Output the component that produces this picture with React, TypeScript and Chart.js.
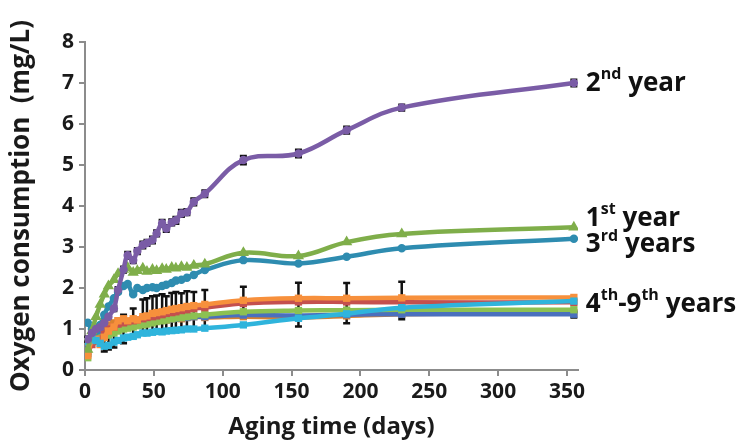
import React, { useEffect, useRef } from "react";
import { Chart, registerables } from "chart.js";
Chart.register(...registerables);

// ---- data ----
const days = [2, 5, 8, 11, 14, 17, 21, 24, 28, 31, 35, 38, 42, 45, 49, 52, 56, 59, 63, 66, 70, 74, 79, 87, 115, 155, 190, 230, 355];

const year2 = [0.75, 0.9, 1.0, 1.05, 1.15, 1.3, 1.5, 1.95, 2.45, 2.8, 2.68, 2.9, 3.05, 3.1, 3.17, 3.33, 3.58, 3.45, 3.6, 3.65, 3.82, 3.85, 4.1, 4.3, 5.12, 5.28, 5.85, 6.4, 7.0];
const year1 = [0.5, 0.95, 1.3, 1.6, 1.85, 2.05, 2.2, 2.35, 2.45, 2.5, 2.38, 2.42, 2.48, 2.4, 2.45, 2.42, 2.47, 2.45, 2.5, 2.48, 2.52, 2.5, 2.55, 2.58, 2.86, 2.78, 3.12, 3.32, 3.48];
const year3 = [1.15, 1.0, 0.95, 1.1, 1.35, 1.55, 1.75, 1.9, 2.05, 2.1, 1.85, 2.0, 1.95, 2.0, 2.02, 2.0, 2.05, 2.08, 2.12, 2.18, 2.2, 2.25, 2.32, 2.44, 2.68, 2.6, 2.76, 2.97, 3.2];
const lowCyan = [0.7, 0.75, 0.72, 0.65, 0.58, 0.6, 0.68, 0.72, 0.78, 0.8, 0.82, 0.86, 0.9, 0.9, 0.92, 0.94, 0.93, 0.95, 0.96, 0.97, 0.98, 1.0, 1.0, 1.02, 1.1, 1.26, 1.37, 1.52, 1.68];
const lowOrange = [0.35, 0.72, 0.75, 0.62, 0.8, 0.95, 1.05, 1.2, 1.25, 1.2, 1.25, 1.22, 1.3, 1.32, 1.38, 1.4, 1.42, 1.45, 1.48, 1.5, 1.52, 1.55, 1.57, 1.6, 1.7, 1.75, 1.75, 1.76, 1.77];
const lowRed = [0.4, 0.62, 0.7, 0.75, 0.88, 1.0, 1.05, 1.12, 1.15, 1.18, 1.2, 1.22, 1.25, 1.28, 1.3, 1.32, 1.35, 1.38, 1.4, 1.42, 1.45, 1.47, 1.5, 1.52, 1.62, 1.66, 1.66, 1.65, 1.65];
const lowGreen = [0.3, 0.68, 0.75, 0.78, 0.8, 0.85, 0.9, 0.95, 1.0, 1.02, 1.05, 1.08, 1.1, 1.12, 1.15, 1.18, 1.2, 1.22, 1.25, 1.27, 1.28, 1.3, 1.32, 1.35, 1.42, 1.45, 1.46, 1.47, 1.47];
const lowBlue = [0.5, 0.75, 0.8, 0.85, 0.9, 0.95, 1.0, 1.05, 1.08, 1.1, 1.12, 1.12, 1.15, 1.17, 1.18, 1.2, 1.22, 1.23, 1.25, 1.26, 1.28, 1.28, 1.3, 1.3, 1.34, 1.33, 1.35, 1.36, 1.36];
const lowBrown = [0.45, 0.8, 0.85, 0.95, 1.05, 1.1, 1.15, 1.2, 1.1, 1.15, 1.2, 1.18, 1.2, 1.22, 1.2, 1.22, 1.25, 1.22, 1.25, 1.28, 1.25, 1.28, 1.3, 1.28, 1.3, 1.28, 1.32, 1.36, 1.4];

// error bars
const year2Err = [0.06, 0.06, 0.06, 0.06, 0.06, 0.06, 0.06, 0.07, 0.07, 0.08, 0.07, 0.07, 0.08, 0.07, 0.08, 0.07, 0.08, 0.08, 0.07, 0.08, 0.08, 0.07, 0.08, 0.08, 0.1, 0.09, 0.08, 0.07, 0.08];
const lowErrDays = [14, 17, 21, 28, 35, 42, 45, 49, 52, 56, 59, 63, 66, 70, 74, 79, 87, 115, 155, 190, 230, 355];
const lowErrHigh = [0.9, 1.05, 1.15, 1.35, 1.5, 1.72, 1.75, 1.8, 1.82, 1.85, 1.8, 1.88, 1.9, 1.87, 1.92, 1.9, 1.95, 2.03, 2.13, 2.12, 2.15, 1.42];
const lowErrLow = [0.45, 0.5, 0.55, 0.65, 0.8, 0.9, 0.9, 0.92, 0.95, 0.95, 0.97, 0.98, 0.98, 0.97, 1.0, 1.0, 1.02, 1.4, 1.06, 1.14, 1.24, 1.28];

const xTicks = [0, 50, 100, 150, 200, 250, 300, 350];
const yTicks = [0, 1, 2, 3, 4, 5, 6, 7, 8];

const xTitle = "Aging time (days)";
const yTitle = "Oxygen consumption  (mg/L)";

// label segments: [text, isSuperscript]
const seriesLabels: [string, number][][] = [
  [["2", 0], ["nd", 1], [" year", 0]],
  [["1", 0], ["st", 1], [" year", 0]],
  [["3", 0], ["rd", 1], [" years", 0]],
  [["4", 0], ["th", 1], ["-9", 0], ["th", 1], [" years", 0]],
];

const FONT = "'Open Sans', Lato, sans-serif";

const pts = (vals: number[]) => vals.map((v, i) => ({ x: days[i], y: v }));

const errorPlugin = {
  id: "errbars",
  beforeDatasetsDraw(chart: any) {
    const { ctx } = chart;
    const x = chart.scales.x, y = chart.scales.y;
    ctx.save();
    ctx.strokeStyle = "#111";
    ctx.lineWidth = 2.5;
    const bar = (d: number, lo: number, hi: number, cap: number) => {
      const px = x.getPixelForValue(d);
      const y1 = y.getPixelForValue(lo), y2 = y.getPixelForValue(hi);
      ctx.beginPath();
      ctx.moveTo(px, y1); ctx.lineTo(px, y2);
      ctx.moveTo(px - cap, y1); ctx.lineTo(px + cap, y1);
      ctx.moveTo(px - cap, y2); ctx.lineTo(px + cap, y2);
      ctx.stroke();
    };
    lowErrDays.forEach((d, i) => bar(d, lowErrLow[i], lowErrHigh[i], 3.5));
    days.forEach((d, i) => bar(d, year2[i] - year2Err[i], year2[i] + year2Err[i], 3.5));
    ctx.restore();
  },
};

const labelPlugin = {
  id: "serieslabels",
  afterDraw(chart: any) {
    const { ctx } = chart;
    const x = chart.scales.x, y = chart.scales.y;
    const anchors = [6.99, 3.7, 3.05, 1.6];
    const x0 = x.getPixelForValue(355) + 12;
    ctx.save();
    ctx.fillStyle = "#111";
    ctx.textBaseline = "middle";
    seriesLabels.forEach((segs, i) => {
      let cx = x0;
      const cy = y.getPixelForValue(anchors[i]);
      segs.forEach(([t, sup]) => {
        ctx.font = sup ? `bold 16px ${FONT}` : `bold 26px ${FONT}`;
        ctx.fillText(t, cx, sup ? cy - 9 : cy);
        cx += ctx.measureText(t).width;
      });
    });
    ctx.restore();
  },
};

export default function App() {
  const ref = useRef<HTMLCanvasElement>(null);
  useEffect(() => {
    if (!ref.current) return;
    const mk = (label: string, vals: number[], color: string, style: string) => ({
      label,
      data: pts(vals),
      borderColor: color,
      backgroundColor: color,
      borderWidth: 4.5,
      pointRadius: 2,
      pointStyle: style,
      pointBorderColor: color,
      pointBackgroundColor: color,
      tension: 0.4,
      fill: false,
    });
    const chart = new Chart(ref.current, {
      type: "line",
      data: {
        datasets: [
          mk("2nd year", year2, "#7a5ca6", "circle"),
          mk("1st year", year1, "#7fae4a", "triangle"),
          mk("3rd years", year3, "#2e8cb0", "circle"),
          mk("4th-9th cyan", lowCyan, "#2fb4dc", "rect"),
          mk("4th-9th orange", lowOrange, "#f7903c", "rect"),
          mk("4th-9th red", lowRed, "#c4504e", "rect"),
          mk("4th-9th green", lowGreen, "#8cc152", "rect"),
          mk("4th-9th blue", lowBlue, "#4a70be", "rect"),
          mk("4th-9th brown", lowBrown, "#d9812f", "rect"),
        ] as any,
      },
      options: {
        responsive: false,
        devicePixelRatio: 1,
        animation: false,
        layout: { padding: { top: 42, right: 160, left: 0, bottom: 0 } },
        plugins: { legend: { display: false }, tooltip: { enabled: false } },
        scales: {
          x: {
            type: "linear",
            min: 0,
            max: 358,
            afterBuildTicks: (s: any) => { s.ticks = xTicks.map((v) => ({ value: v })); },
            afterFit: (s: any) => { s.height = 72; },
            ticks: { font: { family: FONT, size: 21, weight: "bold" }, color: "#1a1a1a", padding: 3, maxRotation: 0, autoSkip: false },
            grid: { display: true, drawOnChartArea: false, drawTicks: true, tickLength: 6, color: "#8c8c8c", lineWidth: 2 },
            border: { display: true, color: "#8c8c8c", width: 2 },
            title: { display: true, text: xTitle, font: { family: FONT, size: 24, weight: "bold" }, color: "#1a1a1a", padding: { top: 0, bottom: 0 } },
          },
          y: {
            type: "linear",
            min: 0,
            max: 8,
            afterBuildTicks: (s: any) => { s.ticks = yTicks.map((v) => ({ value: v })); },
            afterFit: (s: any) => { s.width = 85; },
            ticks: { font: { family: FONT, size: 21, weight: "bold" }, color: "#1a1a1a", padding: 5 },
            grid: { display: true, drawOnChartArea: false, drawTicks: true, tickLength: 6, color: "#8c8c8c", lineWidth: 2 },
            border: { display: true, color: "#8c8c8c", width: 2 },
            title: { display: true, text: yTitle, font: { family: FONT, size: 26, weight: "bold" }, color: "#1a1a1a", padding: { top: 6, bottom: 0 } },
          },
        },
      } as any,
      plugins: [errorPlugin, labelPlugin],
    });
    return () => chart.destroy();
  }, []);
  return (
    <div style={{ position: "fixed", left: 0, top: 0, width: 738, height: 442, background: "#fff" }}>
      <canvas ref={ref} width={738} height={442} />
    </div>
  );
}
